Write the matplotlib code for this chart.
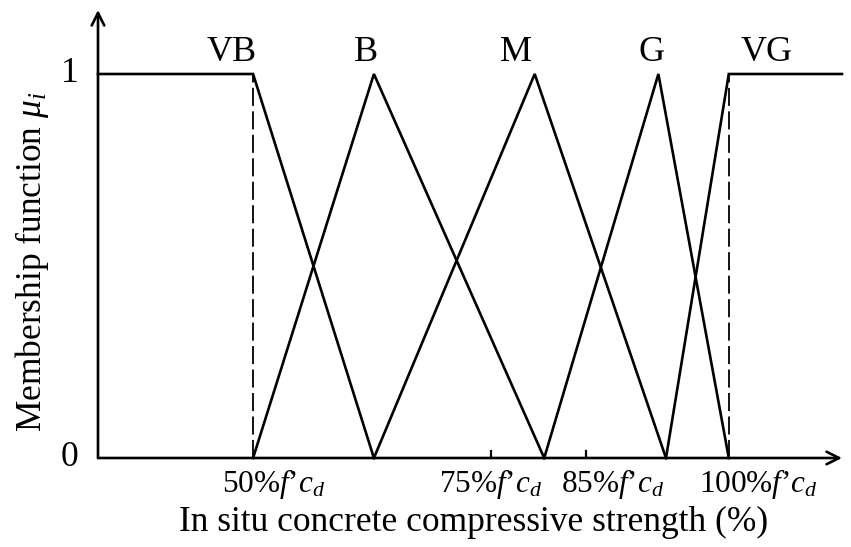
import matplotlib
matplotlib.use("Agg")
import matplotlib.pyplot as plt

# ---- data (x in % of f'c_d, y = membership) ----
vb_x = [33.7, 50.0, 62.7]
vb_y = [1, 1, 0]
b_x = [50.0, 62.7, 80.6]
b_y = [0, 1, 0]
m_x = [62.7, 79.6, 93.4]
m_y = [0, 1, 0]
g_x = [80.6, 92.6, 100.0]
g_y = [0, 1, 0]
vg_x = [93.4, 100.0, 111.9]
vg_y = [0, 1, 1]
set_names = ["VB", "B", "M", "G", "VG"]
name_x = [47.8, 61.9, 77.6, 91.9, 104.0]
tick_vals = [50, 75, 85, 100]
tick_label_x = [52.2, 75.0, 87.8, 103.1]
tick_labels = ["50%$f$’$c_d$", "75%$f$’$c_d$", "85%$f$’$c_d$", "100%$f$’$c_d$"]
dashed_x = [50, 100]
marked_ticks = [75, 85]

plt.rcParams['font.family'] = ['Liberation Serif', 'DejaVu Serif']
plt.rcParams['mathtext.fontset'] = 'custom'
plt.rcParams['mathtext.rm'] = 'Liberation Serif'
plt.rcParams['mathtext.it'] = 'Liberation Serif:italic'

W, H = 851, 547
fig = plt.figure(figsize=(W / 100, H / 100), dpi=100)
ax = fig.add_axes([98 / W, 89 / H, (842 - 98) / W, (458 - 10) / H])
ax.set_xlim(33.7, 111.9)
ax.set_ylim(0, 448 / 384)
for s in ax.spines.values():
    s.set_visible(False)
ax.set_xticks([])
ax.set_yticks([])

lw = 1.9
for xs, ys in [(vb_x, vb_y), (b_x, b_y), (m_x, m_y), (g_x, g_y), (vg_x, vg_y)]:
    ax.plot(xs, ys, color='black', lw=lw, solid_joinstyle='miter', clip_on=False)

for xd in dashed_x:
    ax.plot([xd, xd], [0, 1], color='black', lw=1.3, ls=(0, (10, 3)))

# axes arrows
ax.annotate('', xy=(1.0, 0), xytext=(0, 0), xycoords='axes fraction',
            arrowprops=dict(arrowstyle='->,head_length=0.9,head_width=0.45', lw=lw, color='black',
                            shrinkA=0, shrinkB=0))
ax.annotate('', xy=(0, 1.0), xytext=(0, 0), xycoords='axes fraction',
            arrowprops=dict(arrowstyle='->,head_length=0.9,head_width=0.45', lw=lw, color='black',
                            shrinkA=0, shrinkB=0))

# marked ticks
for tx in marked_ticks:
    ax.plot([tx, tx], [-0.018, 0.018], color='black', lw=1.6)

for tx, tl in zip(tick_label_x, tick_labels):
    ax.text(tx, -0.0885, tl, ha='center', va='baseline', fontsize=22.5)

ax.annotate("1", xy=(33.7, 1), xytext=(-14, 0), textcoords='offset points',
            ha='right', va='center', fontsize=25.5)
ax.annotate("0", xy=(33.7, 0), xytext=(-14, 0), textcoords='offset points',
            ha='right', va='center', fontsize=25.5)

for nm, nx in zip(set_names, name_x):
    ax.text(nx, 1.034, nm, ha='center', va='baseline', fontsize=26)

fig.text(474 / W, 1 - 522 / H, "In situ concrete compressive strength (%)",
         ha='center', va='center', fontsize=25.5)
fig.text(32 / W, 1 - 262 / H, "Membership function $\\mu_i$",
         ha='center', va='center', rotation=90, fontsize=25.5)

fig.savefig("out.png", dpi=100)
